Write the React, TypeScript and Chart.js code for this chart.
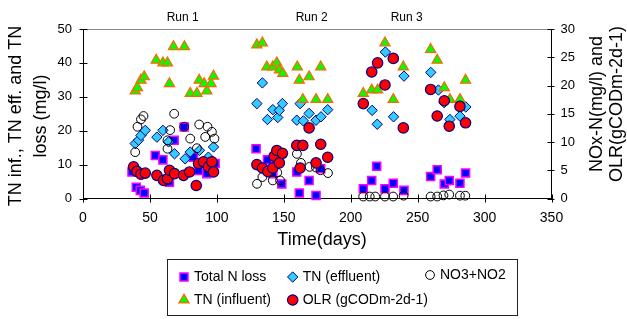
import React, { useEffect, useRef } from 'react';
import { Chart, registerables } from 'chart.js';
Chart.register(...registerables);

const FONT = '"Liberation Sans", Arial, Helvetica, sans-serif';

// Total N loss (left axis, mg/l)
const lossDays = [36.6, 39.8, 42.8, 45.7, 54.0, 59.7, 64.6, 68.1, 75.6, 82.5, 86.3, 92.5, 98.7,
  129.3, 137.8, 141.8, 144.8, 148.5, 159.7, 161.6, 168.9, 174.1, 177.6,
  209.4, 215.7, 219.4, 225.6, 231.8, 239.8, 259.7, 264.6, 269.9, 273.6, 281.6, 285.8];
const lossValues = [7.8, 3.3, 2.4, 1.6, 12.7, 11.4, 4.8, 17.2, 21.1, 12.2, 8.3, 7.3, 10.3,
  14.7, 11.4, 7.3, 11.7, 4.3, 7.8, 1.6, 5.3, 0.9, 8.8,
  2.9, 5.3, 9.5, 2.9, 4.5, 2.4, 6.5, 8.5, 4.3, 5.3, 4.5, 7.5];

// TN (effluent) (left axis, mg/l)
const effDays = [39.0, 41.5, 43.3, 46.5, 55.2, 59.7, 63.9, 68.4, 76.3, 80.1, 87.0, 93.7, 97.5,
  129.9, 134.0, 137.8, 141.8, 145.5, 146.7, 149.0, 159.7, 162.2, 164.6, 168.9, 174.1, 177.8, 182.8,
  216.0, 219.8, 225.9, 232.0, 239.8, 259.8, 265.5, 269.8, 274.1, 281.6, 286.0];
const effValues = [16.2, 17.2, 18.6, 20.1, 18.1, 20.1, 16.7, 13.2, 11.7, 13.7, 14.2, 12.2, 15.2,
  28.0, 34.1, 23.3, 26.2, 23.9, 26.0, 28.0, 23.1, 28.0, 22.9, 25.1, 23.1, 24.1, 26.2,
  26.0, 21.9, 43.2, 24.1, 36.1, 37.2, 32.0, 28.3, 23.3, 24.3, 27.0];

// TN (influent) (left axis, mg/l)
const infDays = [39.0, 40.7, 43.3, 45.7, 54.7, 59.7, 63.1, 64.6, 67.6, 75.8, 80.1, 85.1, 86.8, 90.5, 92.5, 95.7, 97.5,
  129.9, 134.0, 137.3, 141.8, 144.8, 146.7, 149.3, 160.1, 161.6, 164.2, 168.9, 174.1, 177.6, 182.8,
  209.4, 215.7, 220.1, 225.6, 231.8, 239.3, 259.7, 264.6, 269.9, 274.1, 281.6, 285.8];
const infValues = [31.7, 32.7, 34.9, 35.9, 40.8, 40.0, 40.0, 33.9, 44.8, 44.8, 31.0, 31.0, 34.9, 33.9, 31.7, 33.9, 36.1,
  45.3, 45.9, 38.8, 38.8, 40.0, 37.9, 36.9, 38.8, 34.9, 29.2, 35.9, 29.2, 38.8, 29.2,
  31.0, 32.0, 32.0, 45.9, 29.2, 38.8, 44.0, 40.8, 32.7, 29.2, 29.2, 34.9];

// NO3+NO2 (right axis, mg/l)
const noxDays = [39.0, 40.7, 43.3, 45.2, 63.1, 63.1, 65.1, 68.1, 75.6, 80.1, 85.1, 86.8, 91.3, 93.0, 96.3, 98.2,
  130.0, 134.0, 138.0, 141.8, 145.1, 147.2, 159.8, 162.8, 169.3, 174.0, 177.4, 183.0,
  209.3, 214.2, 218.3, 225.6, 231.7, 239.5, 259.7, 264.6, 269.3, 273.6, 281.6, 285.6];
const noxValues = [8.2, 12.7, 14.0, 14.6, 8.8, 10.3, 12.1, 15.0, 12.7, 10.6, 8.9, 13.1, 10.9, 12.7, 11.8, 10.6,
  2.6, 3.8, 4.7, 3.2, 4.6, 3.2, 7.9, 6.3, 5.6, 5.5, 5.0, 4.5,
  0.35, 0.35, 0.35, 0.35, 0.35, 0.5, 0.35, 0.35, 0.55, 0.7, 0.5, 0.5];

// OLR (gCODm-2d-1) (right axis)
const olrDays = [37.8, 40.3, 43.3, 46.5, 55.2, 60.2, 63.1, 64.6, 68.4, 75.1, 79.6, 84.6, 86.3, 90.0, 93.7, 96.3, 97.5,
  129.9, 134.0, 138.0, 141.8, 142.8, 144.8, 146.7, 149.0, 159.7, 162.2, 164.2, 168.9, 174.1, 177.6, 182.8,
  209.4, 215.7, 220.1, 225.6, 231.8, 239.3, 259.7, 264.6, 269.9, 273.6, 281.6, 285.8];
const olrValues = [5.6, 4.8, 4.3, 4.5, 4.1, 3.2, 3.5, 5.0, 4.4, 4.1, 4.7, 2.3, 6.2, 6.5, 5.6, 6.5, 4.7,
  6.0, 5.4, 4.8, 5.4, 7.5, 8.5, 6.3, 8.0, 9.4, 5.4, 9.4, 12.5, 6.3, 9.6, 7.3,
  16.8, 22.4, 24.0, 20.1, 24.8, 12.5, 19.3, 14.6, 17.3, 12.8, 16.3, 13.4];

const xTicksStep = 50;
const runLabels = ['Run 1', 'Run 2', 'Run 3'];
const runLabelX = [182.7, 311.7, 406.7];
const leftTitle = ['TN inf., TN eff. and TN', 'loss (mg/l)'];
const rightTitle = ['NOx-N(mg/l) and', 'OLR(gCODm-2d-1)'];
const xTitle = 'Time(days)';

const STYLES = {
  loss: { shape: 'rect', r: 5.7, fill: '#0000FF', stroke: '#FF00FF', lw: 1.5 },
  eff: { shape: 'rectRot', r: 5.2, fill: '#33CCFF', stroke: '#000080', lw: 1 },
  inf: { shape: 'triangle', r: 5.9, fill: '#00FF00', stroke: '#FF6600', lw: 1.2 },
  nox: { shape: 'circle', r: 4.4, fill: 'rgba(0,0,0,0)', stroke: '#000000', lw: 1 },
  olr: { shape: 'circle', r: 5.2, fill: '#FF0000', stroke: '#000080', lw: 1.2 },
};

function pts(xs: number[], ys: number[]) {
  return xs.map((x, i) => ({ x, y: ys[i] }));
}

function drawMarker(ctx: CanvasRenderingContext2D, st: any, x: number, y: number) {
  const r = st.r;
  ctx.beginPath();
  if (st.shape === 'rect') {
    const s = r * Math.SQRT1_2;
    ctx.rect(x - s, y - s, 2 * s, 2 * s);
  } else if (st.shape === 'rectRot') {
    ctx.moveTo(x - r, y); ctx.lineTo(x, y - r); ctx.lineTo(x + r, y); ctx.lineTo(x, y + r); ctx.closePath();
  } else if (st.shape === 'triangle') {
    ctx.moveTo(x, y - r);
    ctx.lineTo(x + r * Math.sin(2 * Math.PI / 3), y - r * Math.cos(2 * Math.PI / 3));
    ctx.lineTo(x + r * Math.sin(4 * Math.PI / 3), y - r * Math.cos(4 * Math.PI / 3));
    ctx.closePath();
  } else {
    ctx.arc(x, y, r, 0, Math.PI * 2);
  }
  ctx.fillStyle = st.fill; ctx.fill();
  ctx.lineWidth = st.lw; ctx.strokeStyle = st.stroke; ctx.stroke();
}

const decor = {
  id: 'decor',
  beforeDatasetsDraw(chart: any) {
    const { ctx, chartArea: a, scales } = chart;
    ctx.save();
    ctx.lineWidth = 1;
    // top frame
    ctx.strokeStyle = '#8a8a8a';
    ctx.beginPath(); ctx.moveTo(a.left, a.top + 0.5); ctx.lineTo(a.right, a.top + 0.5); ctx.stroke();
    ctx.strokeStyle = '#000';
    const L = Math.round(a.left) + 0.5, R = Math.round(a.right) - 0.5, B = Math.round(a.bottom) - 0.5;
    ctx.beginPath();
    ctx.moveTo(L, a.top); ctx.lineTo(L, B + 0.5);
    ctx.moveTo(R, a.top); ctx.lineTo(R, B + 0.5);
    ctx.moveTo(L, B); ctx.lineTo(R, B);
    scales.y.ticks.forEach((t: any) => {
      const p = Math.round(scales.y.getPixelForValue(t.value)) + 0.5;
      ctx.moveTo(L - 4, p); ctx.lineTo(L + 4, p);
    });
    scales.y2.ticks.forEach((t: any) => {
      const p = Math.round(scales.y2.getPixelForValue(t.value)) + 0.5;
      ctx.moveTo(R - 4, p); ctx.lineTo(R + 3, p);
    });
    scales.x.ticks.forEach((t: any) => {
      const p = Math.round(scales.x.getPixelForValue(t.value)) + 0.5;
      ctx.moveTo(p, B - 4); ctx.lineTo(p, B + 4);
    });
    ctx.stroke();
    ctx.restore();
  },
  afterDraw(chart: any) {
    const { ctx } = chart;
    ctx.save();
    ctx.fillStyle = '#000';
    ctx.textBaseline = 'middle';
    ctx.textAlign = 'center';
    ctx.font = `12px ${FONT}`;
    runLabels.forEach((t, i) => ctx.fillText(t, runLabelX[i], 17.5));
    ctx.font = `18px ${FONT}`;
    ctx.fillText(xTitle, 322, 240);
    // left title
    ctx.save();
    ctx.translate(0, 0);
    [16, 41].forEach((cx, i) => {
      ctx.save(); ctx.translate(cx, 116); ctx.rotate(-Math.PI / 2);
      ctx.fillText(leftTitle[i], 0, 0); ctx.restore();
    });
    [597, 617].forEach((cx, i) => {
      ctx.save(); ctx.translate(cx, 104); ctx.rotate(-Math.PI / 2);
      ctx.fillText(rightTitle[i], 0, 0); ctx.restore();
    });
    ctx.restore();
    // legend
    ctx.strokeStyle = '#222'; ctx.lineWidth = 1;
    ctx.strokeRect(167.5, 259.5, 350, 56);
    ctx.font = `14px ${FONT}`;
    ctx.textAlign = 'left';
    const items: [any, string, number, number][] = [
      [STYLES.loss, 'Total N loss', 184, 277],
      [STYLES.eff, 'TN (effluent)', 292.7, 277],
      [STYLES.nox, 'NO3+NO2', 430, 275],
      [STYLES.inf, 'TN (influent)', 184, 300],
      [STYLES.olr, 'OLR (gCODm-2d-1)', 292.7, 300],
    ];
    items.forEach(([st, label, x, y]) => {
      drawMarker(ctx, st, x, y);
      ctx.fillStyle = '#000';
      ctx.fillText(label, x + 10, y);
    });
    ctx.restore();
  },
};

function ds(label: string, st: any, data: any[], axis: string, order: number) {
  return {
    label, data, yAxisID: axis, order, clip: false as any,
    pointStyle: st.shape, pointRadius: st.r, pointBackgroundColor: st.fill,
    pointBorderColor: st.stroke, pointBorderWidth: st.lw, showLine: false,
    backgroundColor: st.fill, borderColor: st.stroke,
  };
}

export default function App() {
  const ref = useRef<HTMLCanvasElement>(null);
  useEffect(() => {
    document.body.style.margin = '0';
    const tickFont = (size: number) => ({ family: FONT, size });
    const chart = new Chart(ref.current!, {
      type: 'scatter',
      data: {
        datasets: [
          ds('OLR (gCODm-2d-1)', STYLES.olr, pts(olrDays, olrValues), 'y2', 0),
          ds('NO3+NO2', STYLES.nox, pts(noxDays, noxValues), 'y2', 1),
          ds('TN (influent)', STYLES.inf, pts(infDays, infValues), 'y', 2),
          ds('TN (effluent)', STYLES.eff, pts(effDays, effValues), 'y', 3),
          ds('Total N loss', STYLES.loss, pts(lossDays, lossValues), 'y', 4),
        ] as any,
      },
      options: {
        responsive: false,
        animation: false,
        devicePixelRatio: 1,
        layout: { padding: { top: 29, left: 0, right: 0, bottom: 0 } },
        plugins: { legend: { display: false }, tooltip: { enabled: false } },
        scales: {
          x: {
            type: 'linear', min: 0, max: 350,
            ticks: { stepSize: xTicksStep, font: tickFont(14), color: '#000', padding: 11, maxRotation: 0 },
            grid: { display: false, drawTicks: false }, border: { display: false },
            afterFit: (s: any) => { s.height = 120.5; },
          },
          y: {
            position: 'left', min: 0, max: 50,
            ticks: { stepSize: 5, font: tickFont(13), color: '#000', padding: 11 },
            grid: { display: false, drawTicks: false }, border: { display: false },
            afterFit: (s: any) => { s.width = 83; },
          },
          y2: {
            position: 'right', min: 0, max: 30,
            ticks: { stepSize: 5, font: tickFont(13), color: '#000', padding: 9 },
            grid: { display: false, drawTicks: false }, border: { display: false },
            afterFit: (s: any) => { s.width = 75.5; },
          },
        },
      } as any,
      plugins: [decor],
    });
    return () => chart.destroy();
  }, []);
  return (
    <div style={{ width: 627, height: 319, background: '#fff' }}>
      <canvas ref={ref} width={627} height={319} style={{ display: 'block' }} />
    </div>
  );
}
